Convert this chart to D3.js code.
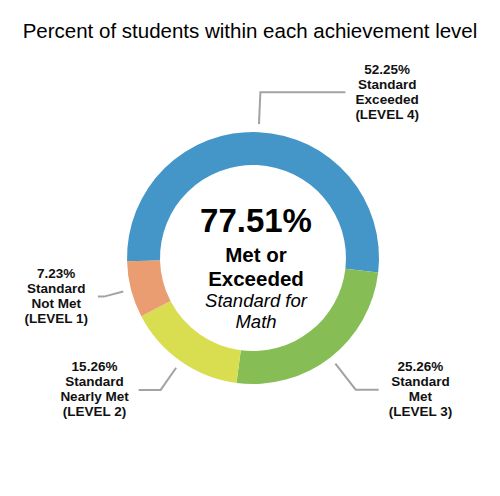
<!DOCTYPE html>
<html>
<head>
<meta charset="utf-8">
<script src="https://cdn.jsdelivr.net/npm/d3@7"></script>
<style>
	body { margin: 0; background: #fff; }
	text { font-family: "Liberation Sans", Arial, sans-serif; }
</style>
</head>
<body>
<div id="chart"></div>
<script>
// chart values
var levelNames = ['LEVEL 4', 'LEVEL 3', 'LEVEL 2', 'LEVEL 1']
var levelTexts = [['Standard', 'Exceeded'], ['Standard', 'Met'], ['Standard', 'Nearly Met'], ['Standard', 'Not Met']]
var percents = [52.25, 25.26, 15.26, 7.23]
var sliceColors = ['#4596c8', '#86be55', '#d9de50', '#e99d70']
var centerValue = '77.51%'
var centerBold = ['Met or', 'Exceeded']
var centerItalic = ['Standard for', 'Math']
var title = 'Percent of students within each achievement level'

// leader line layout (elbow radius, horizontal run)
var elbowR = [166, 167, 161, 154]
var runLen = [85, 23, 22, 6]

var width = 500, height = 496
var cx = 253, cy = 258
var outerR = 126, innerR = 93

var svg = d3.select('#chart').append('svg')
	.attr('width', width).attr('height', height)

svg.append('text')
	.attr('x', 250).attr('y', 38)
	.attr('text-anchor', 'middle')
	.style('font-size', '20.5px')
	.text(title)

var g = svg.append('g').attr('transform', 'translate(' + cx + ',' + cy + ')')

var pie = d3.pie().sort(null)
	.startAngle(-91.5 * Math.PI / 180)
	.endAngle(268.5 * Math.PI / 180)
var arcs = pie(percents)

var arc = d3.arc().innerRadius(innerR).outerRadius(outerR)

g.selectAll('path.slice').data(arcs).enter().append('path')
	.attr('class', 'slice')
	.attr('d', arc)
	.attr('fill', function(d, i) { return sliceColors[i] })

function pt(a, r) { return [Math.sin(a) * r, -Math.cos(a) * r] }

arcs.forEach(function(d, i) {
	var mid = (d.startAngle + d.endAngle) / 2
	var p0 = pt(mid, 134)
	var p1 = pt(mid, elbowR[i])
	var side = p1[0] >= 0 ? 1 : -1
	var p2 = [p1[0] + side * runLen[i], p1[1]]
	g.append('path')
		.attr('d', d3.line()([p0, p1, p2]))
		.attr('fill', 'none')
		.attr('stroke', '#a3a3a3')
		.attr('stroke-width', 2)

	var lines = [d3.format('.2f')(d.data) + '%'].concat(levelTexts[i]).concat(['(' + levelNames[i] + ')'])
	var lh = 15
	var t = g.append('text')
		.attr('text-anchor', 'middle')
		.style('font-size', '13.5px')
		.style('font-weight', 'bold')
		.attr('fill', '#111')
	lines.forEach(function(s, k) {
		t.append('tspan').attr('x', 0).attr('y', p2[1] - (lines.length - 1) * lh / 2 + 4 + k * lh).text(s)
	})
	var w = 0
	t.selectAll('tspan').each(function() { w = Math.max(w, this.getComputedTextLength()) })
	t.selectAll('tspan').attr('x', p2[0] + side * (10 + w / 2))
})

var ct = g.append('g').attr('transform', 'translate(3,0)')
ct.append('text')
	.attr('y', -26).attr('text-anchor', 'middle')
	.style('font-size', '33px').style('font-weight', 'bold')
	.text(centerValue)
centerBold.forEach(function(s, k) {
	ct.append('text')
		.attr('y', 4 + k * 24).attr('text-anchor', 'middle')
		.style('font-size', '20.5px').style('font-weight', 'bold')
		.text(s)
})
centerItalic.forEach(function(s, k) {
	ct.append('text')
		.attr('y', 49 + k * 21).attr('text-anchor', 'middle')
		.style('font-size', '18.5px').style('font-style', 'italic')
		.text(s)
})
</script>
</body>
</html>
